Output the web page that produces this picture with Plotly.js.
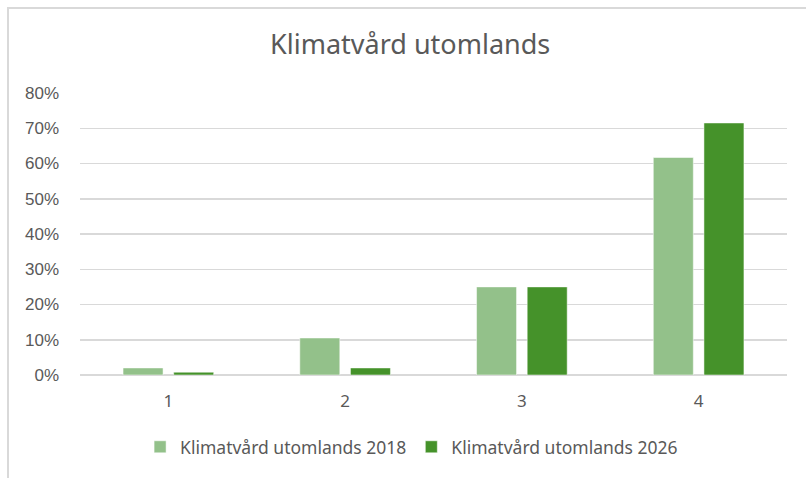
<!DOCTYPE html>
<html>
<head>
<meta charset="utf-8">
<script src="https://cdn.plot.ly/plotly-3.0.1.min.js"></script>
<style>
  html, body { margin: 0; padding: 0; background: #fff; overflow: hidden; }
  #frame { position: absolute; left: 7px; top: 7px; width: 830px; height: 500px;
           border-left: 2px solid #d9d9d9; border-top: 2px solid #d9d9d9; }
  #chart { position: absolute; left: 0; top: 0; width: 806px; height: 478px; }
</style>
</head>
<body>
<div id="frame"></div>
<div id="chart"></div>
<script>
const categories = ["1", "2", "3", "4"];
const series2018 = [0.02, 0.105, 0.25, 0.617];
const series2026 = [0.008, 0.02, 0.25, 0.715];
const seriesNames = ["Klimatvård utomlands 2018", "Klimatvård utomlands 2026"];
const yTickVals = [0, 0.1, 0.2, 0.3, 0.4, 0.5, 0.6, 0.7, 0.8];

const textColor = "#595959";
const fontFam = "Noto Sans, Open Sans, sans-serif";

const traces = [
  { type: "bar", name: seriesNames[0], x: categories, y: series2018,
    marker: { color: "#93c18a", line: { color: "rgba(255,255,255,0.5)", width: 1 } },
    hoverinfo: "skip" },
  { type: "bar", name: seriesNames[1], x: categories, y: series2026,
    marker: { color: "#45922a", line: { color: "rgba(255,255,255,0.5)", width: 1 } },
    hoverinfo: "skip" }
];

const layout = {
  width: 806, height: 478,
  paper_bgcolor: "rgba(0,0,0,0)", plot_bgcolor: "rgba(0,0,0,0)",
  margin: { l: 80, r: 19, t: 93, b: 103 },
  title: { text: "Klimatvård utomlands", x: 0.467, xanchor: "center", xref: "paper",
           y: 1 - 45 / 478, yanchor: "middle", yref: "container",
           font: { family: fontFam, size: 27, color: textColor } },
  barmode: "group",
  bargap: 0.427,
  bargroupgap: 0.21,
  xaxis: { type: "category", showgrid: false, zeroline: false, showline: false,
           ticks: "", tickfont: { family: fontFam, size: 17, color: textColor },
           ticklabelstandoff: 14 },
  yaxis: { range: [0, 0.8], tickvals: yTickVals, tickformat: ".0%",
           showgrid: true, gridcolor: "#d9d9d9", gridwidth: 1.5,
           zeroline: true, zerolinecolor: "#d9d9d9", zerolinewidth: 1.5,
           showline: false, ticks: "",
           tickfont: { family: "Liberation Sans, Arial, sans-serif", size: 17, color: textColor },
           ticklabelstandoff: 20 },
  showlegend: true,
  legend: { orientation: "h", x: 0.469, xanchor: "center", y: -0.255, yanchor: "middle",
            font: { family: fontFam, size: 17.5, color: textColor },
            itemwidth: 20, tracegroupgap: 0, bgcolor: "rgba(0,0,0,0)" }
};

Plotly.newPlot("chart", traces, layout, { staticPlot: true, displayModeBar: false });
</script>
</body>
</html>
